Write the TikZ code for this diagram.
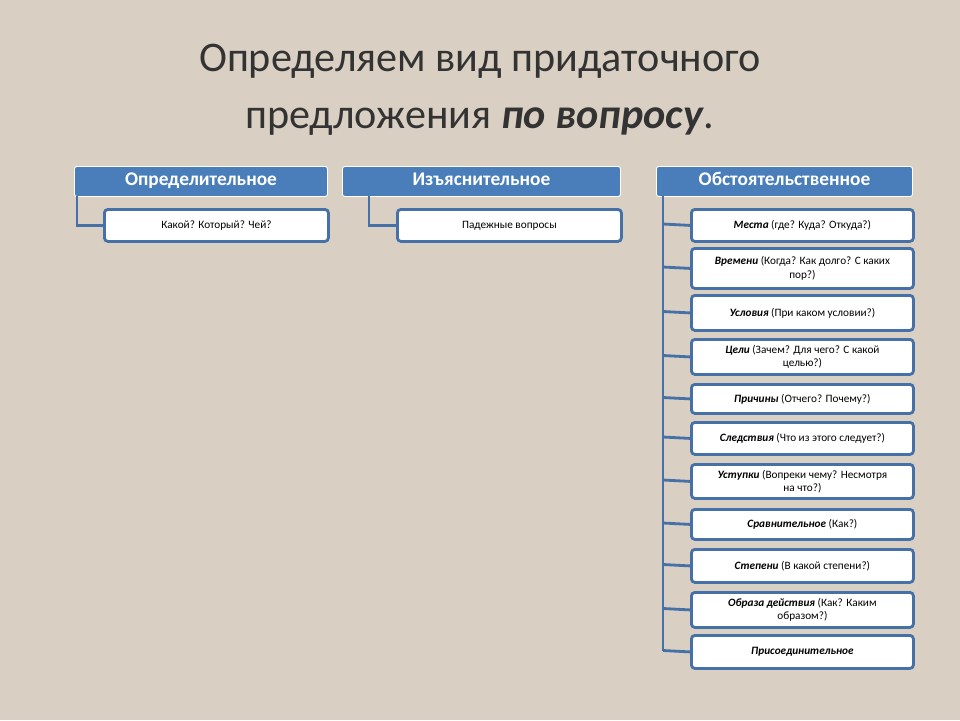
\documentclass[tikz,border=0pt]{standalone}
\usepackage{fontspec}
\setmainfont{Carlito}
\usepackage{tikz}
\usetikzlibrary{positioning}
\definecolor{paper}{HTML}{D9D0C3}
\definecolor{boxblue}{HTML}{4A7EBB}
\definecolor{edgeblue}{HTML}{4570A8}
\tikzset{headbox/.style={draw=white,line width=0.8pt,fill=boxblue,rounded corners=2pt,anchor=north west,
        minimum height=0.9cm,text=white,font=\fontsize{16.5}{18}\selectfont\bfseries,inner sep=0,
        text height=1.6ex,text depth=0.3ex},
    leafbox/.style={draw=edgeblue,line width=2.4pt,fill=white,rounded corners=3pt,anchor=north west,
        align=center,font=\fontsize{9.6}{11.5}\selectfont,inner sep=1pt},
    branch/.style={draw=edgeblue,line width=2.4pt}}

\begin{document}
\begin{tikzpicture}[x=0.03cm,y=-0.03cm]

\fill [paper] (0,0) rectangle (960,720);
\useasboundingbox (0,0) rectangle (960,720);

\node (title) [align=center,font=\fontsize{36}{49}\selectfont,text=black!80] at (480,90)
    {Определяем вид придаточного\\предложения \textbf{\textit{по вопросу}}.};

% headers
\node (h1) [headbox,minimum width=253*0.03cm] at (74,166) {Определительное};
\node (h2) [headbox,minimum width=278*0.03cm] at (342,166) {Изъяснительное};
\node (h3) [headbox,minimum width=256*0.03cm] at (656,166) {Обстоятельственное};

% left and middle leaves
\node (a1) [leafbox,minimum width=224*0.03cm,minimum height=32*0.03cm] at (103,208) {Какой? Который? Чей?};
\node (b1) [leafbox,minimum width=224*0.03cm,minimum height=32*0.03cm] at (396,208) {Падежные вопросы};
\draw [branch] (77,196) |- (a1.west);
\draw [branch] (369,196) |- (b1.west);

% right leaves
\foreach \leafname/\top/\tall/\leaftext in {
    c1/208/32/{\textbf{\textit{Места}} (где? Куда? Откуда?)},
    c2/247/40/{\textbf{\textit{Времени}} (Когда? Как долго? С каких\\пор?)},
    c3/294/35/{\textbf{\textit{Условия}} (При каком условии?)},
    c4/338/35/{\textbf{\textit{Цели}} (Зачем? Для чего? С какой\\целью?)},
    c5/383/29/{\textbf{\textit{Причины}} (Отчего? Почему?)},
    c6/421/32/{\textbf{\textit{Следствия}} (Что из этого следует?)},
    c7/463/34/{\textbf{\textit{Уступки}} (Вопреки чему? Несмотря\\на что?)},
    c8/508/30/{\textbf{\textit{Сравнительное}} (Как?)},
    c9/548/33/{\textbf{\textit{Степени}} (В какой степени?)},
    c10/591/35/{\textbf{\textit{Образа действия}} (Как? Каким\\образом?)},
    c11/634/33/{\textbf{\textit{Присоединительное}}}}
{
    \node (\leafname) [leafbox,minimum width=222*0.03cm,minimum height=\tall*0.03cm] at (690,\top) {\leaftext};
    \draw [branch] (663,\top+0.5*\tall) -- (\leafname.west);
}
\draw [branch] (663,196) -- (663,650.5);

\end{tikzpicture}
\end{document}
